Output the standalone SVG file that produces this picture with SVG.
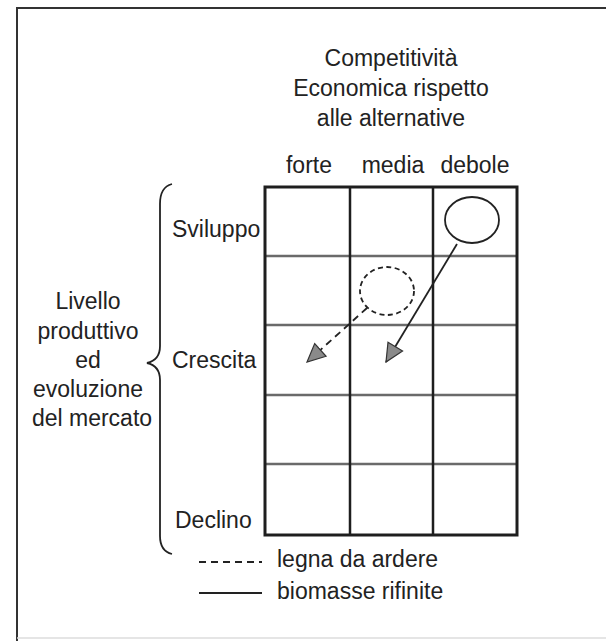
<svg xmlns="http://www.w3.org/2000/svg" width="606" height="641" viewBox="0 0 606 641">
<defs>
<style>
text{font-family:"Liberation Sans",Arial,sans-serif;font-size:23px;fill:#222}
.c{text-anchor:middle}
.h{stroke:#6a6a6a;stroke-width:2.5}
.v{stroke:#1e1e1e;stroke-width:2.5}
.ln{stroke:#222;stroke-width:1.8;fill:none}
.dash{stroke-dasharray:7 5}
.dc{stroke-dasharray:5 3.5}
</style>
<marker id="ah" viewBox="0 0 20 20" refX="19" refY="10" markerWidth="20" markerHeight="20" markerUnits="userSpaceOnUse" orient="auto">
<path d="M1,1.5 L19,10 L1,18.5 Z" fill="#8a8a8a" stroke="#333" stroke-width="1.2"/>
</marker>
</defs>
<rect width="606" height="641" fill="#fff"/>
<g id="frame">
<path d="M17,641 V8 H606" fill="none" stroke="#333" stroke-width="2"/>
<line x1="17" y1="638" x2="606" y2="638" stroke="#ddd" stroke-width="1.5"/>
</g>
<g id="title">
<text class="c" x="391" y="66">Competitività</text>
<text class="c" x="391" y="96">Economica rispetto</text>
<text class="c" x="391" y="126">alle alternative</text>
</g>
<g id="col-labels">
<text class="c" x="309" y="173">forte</text>
<text class="c" x="393" y="173">media</text>
<text class="c" x="475" y="173">debole</text>
</g>
<g id="grid">
<line class="h" x1="265" y1="256" x2="517" y2="256"/>
<line class="h" x1="265" y1="325" x2="517" y2="325"/>
<line class="h" x1="265" y1="395" x2="517" y2="395"/>
<line class="h" x1="265" y1="464" x2="517" y2="464"/>
<line class="v" x1="350" y1="187" x2="350" y2="535"/>
<line class="v" x1="433" y1="187" x2="433" y2="535"/>
<rect x="265" y="187" width="252" height="348" fill="none" stroke="#1e1e1e" stroke-width="3"/>
</g>
<g id="row-labels">
<text x="172" y="237">Sviluppo</text>
<text x="172" y="368">Crescita</text>
<text x="175" y="528">Declino</text>
</g>
<g id="brace">
<path class="ln" d="M172,184 C164,186 160,192 160,204 L160,346 C160,356 156,361 147,363 C156,365 160,370 160,380 L160,536 C160,547 164,552 172,554"/>
</g>
<g id="axis-label">
<text class="c" x="88" y="309">Livello</text>
<text class="c" x="88" y="339">produttivo</text>
<text class="c" x="88" y="368">ed</text>
<text class="c" x="88" y="397">evoluzione</text>
<text class="c" x="92" y="426">del mercato</text>
</g>
<g id="node-biomasse">
<ellipse class="ln" cx="472" cy="220" rx="27" ry="23"/>
</g>
<g id="node-legna">
<ellipse class="ln dc" cx="387" cy="291" rx="27" ry="24"/>
</g>
<g id="connectors">
<line class="ln" x1="457" y1="244" x2="386" y2="362" marker-end="url(#ah)"/>
<line class="ln dash" x1="367" y1="308" x2="307" y2="362" marker-end="url(#ah)"/>
</g>
<g id="legend">
<line class="ln dash" x1="199" y1="562" x2="262" y2="562"/>
<text x="277" y="567">legna da ardere</text>
<line class="ln" x1="199" y1="593" x2="262" y2="593"/>
<text x="277" y="599">biomasse rifinite</text>
</g>
</svg>
